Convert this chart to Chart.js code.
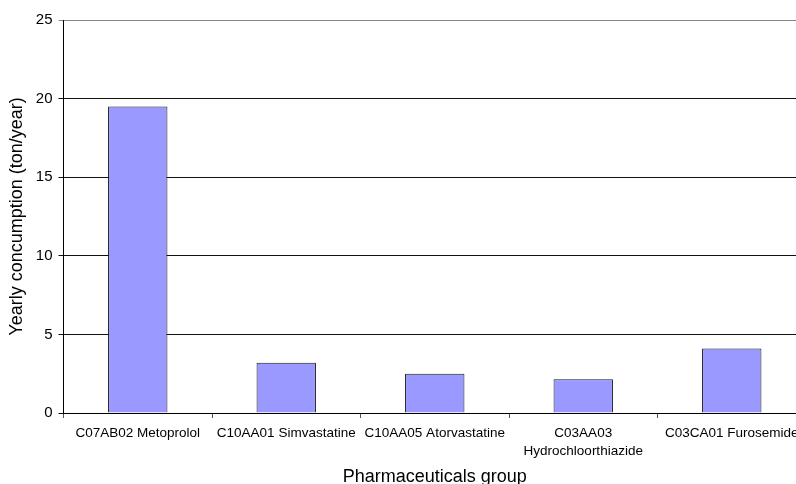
<!DOCTYPE html>
<html>
<head>
<meta charset="utf-8">
<script src="https://cdn.jsdelivr.net/npm/chart.js@4.4.0/dist/chart.umd.min.js"></script>
<style>
  html, body { margin: 0; padding: 0; background: #fff; overflow: hidden; width: 796px; height: 484px; }
  #wrap { width: 806px; height: 484px; }
</style>
</head>
<body>
<div id="wrap"><canvas id="consumptionChart" width="806" height="484"></canvas></div>
<script>
// Yearly consumption per drug (ton/year)
const groups = [
    "C07AB02 Metoprolol",
    "C10AA01 Simvastatine",
    "C10AA05 Atorvastatine",
    ["C03AA03", "Hydrochloorthiazide"],
    "C03CA01 Furosemide"
];
const consumption = [19.5, 3.2, 2.5, 2.15, 4.1];
const yTicks = [0, 5, 10, 15, 20, 25];

const font = "'Liberation Sans', Arial, sans-serif";
Chart.defaults.font.family = font;
Chart.defaults.color = "#000";

const ctx = document.getElementById("consumptionChart").getContext("2d");

new Chart(ctx, {
    type: "bar",
    data: {
        labels: groups,
        datasets: [{
            data: consumption,
            backgroundColor: "#9999ff",
            borderColor: "#1a1a1a",
            borderWidth: 1,
            categoryPercentage: 1,
            barPercentage: 0.4
        }]
    },
    options: {
        responsive: false,
        animation: false,
        devicePixelRatio: 1,
        layout: { padding: { top: 20, right: 0, bottom: 0, left: 0 } },
        plugins: {
            legend: { display: false },
            tooltip: { enabled: false }
        },
        scales: {
            x: {
                grid: {
                    offset: true,
                    drawOnChartArea: false,
                    drawTicks: true,
                    tickLength: 5,
                    color: "#555"
                },
                border: { color: "#000", width: 1 },
                ticks: {
                    font: { size: 13.5, lineHeight: 1.35 },
                    padding: 6,
                    maxRotation: 0,
                    autoSkip: false
                },
                title: {
                    display: true,
                    text: "Pharmaceuticals group",
                    font: { size: 18 },
                    padding: { top: 0, bottom: -4 }
                },
                afterFit: (scale) => { scale.height = 71; }
            },
            y: {
                min: 0,
                max: 25,
                afterBuildTicks: (scale) => { scale.ticks = yTicks.map(v => ({ value: v })); },
                grid: {
                    color: (c) => c.tick && c.tick.value === 25 ? "#888" : "#111",
                    tickLength: 5,
                    drawTicks: true
                },
                border: { color: "#000", width: 1 },
                ticks: {
                    font: { size: 15 },
                    padding: 6
                },
                title: {
                    display: true,
                    text: "Yearly concumption (ton/year)",
                    font: { size: 18 },
                    padding: { top: 6, bottom: 0 }
                },
                afterFit: (scale) => { scale.width = 63.5; }
            }
        }
    }
});
</script>
</body>
</html>
